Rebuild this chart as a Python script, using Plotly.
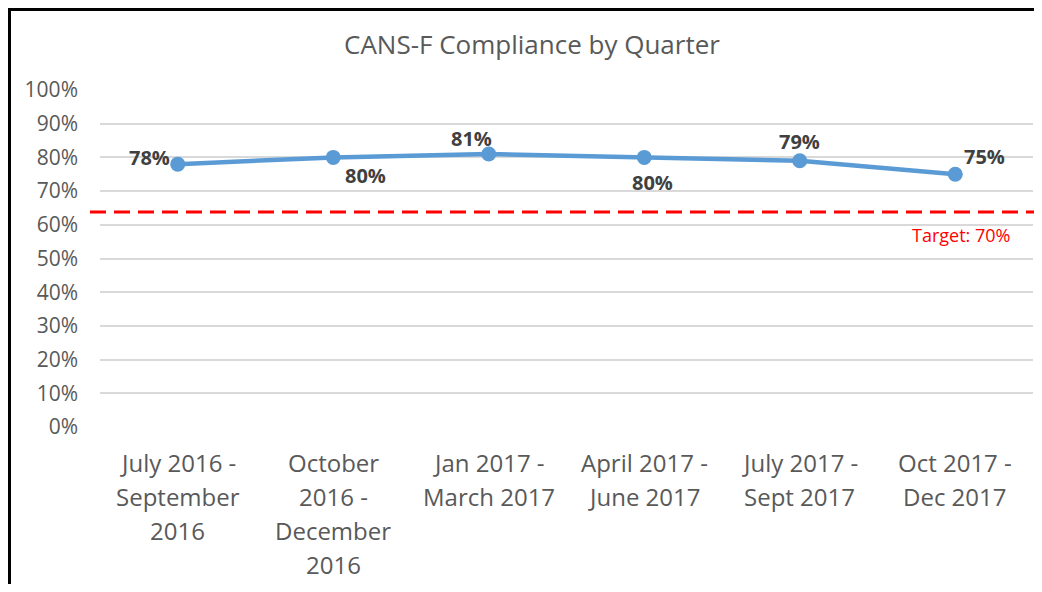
import plotly.graph_objects as go

# ---- data ----
quarters = [
    "July 2016 -<br>September<br>2016",
    "October<br>2016 -<br>December<br>2016",
    "Jan 2017 -<br>March 2017",
    "April 2017 -<br>June 2017",
    "July 2017 -<br>Sept 2017",
    "Oct 2017 -<br>Dec 2017",
]
compliance = [0.78, 0.80, 0.81, 0.80, 0.79, 0.75]
target_line_level = 0.638   # where the dashed target line is drawn in the picture
target_text = "Target: 70%"
y_ticks = [0, 0.1, 0.2, 0.3, 0.4, 0.5, 0.6, 0.7, 0.8, 0.9, 1.0]
y_tick_text = [f"{int(round(v*100))}%" for v in y_ticks]

# label offsets (px) for data labels, mimicking Excel placement
label_dx = [-28, 32, -17, 8, 0, 29]
label_dy = [7, -18, 16, -25, 19, 18]

GRAY = "#595959"
DARK = "#404040"
BLUE = "#5B9BD5"
FONT = "Open Sans"

# page has an 8px body margin, so the figure is sized to fit inside it
W, H = 1026, 576
PL, PR, PT, PB = 92, 1025, 82, 419     # plot area edges in figure px
PW, PH = PR - PL, PB - PT


def px_x(v):   # figure px -> paper x
    return (v - PL) / PW


def px_y(v):   # figure px (from top) -> paper y
    return (PB - v) / PH


fig = go.Figure()
fig.add_trace(go.Scatter(
    x=list(range(len(compliance))), y=compliance,
    mode="lines+markers",
    line=dict(color=BLUE, width=4.5),
    marker=dict(color=BLUE, size=15),
    cliponaxis=False,
    showlegend=False,
    hoverinfo="skip",
))

annotations = []
for i, v in enumerate(compliance):
    annotations.append(dict(
        x=i, y=v, xref="x", yref="y",
        text=f"<b>{int(round(v*100))}%</b>",
        showarrow=False, xshift=label_dx[i], yshift=label_dy[i],
        xanchor="center", yanchor="middle",
        font=dict(family=FONT, size=20, color=DARK),
    ))

# category labels, one annotation per line (Excel-like line spacing)
line_gap = 34
for i, q in enumerate(quarters):
    for j, line in enumerate(q.split("<br>")):
        annotations.append(dict(
            x=i, y=0, xref="x", yref="paper",
            text=line, showarrow=False,
            xanchor="center", yanchor="middle", yshift=-(35 + j * line_gap),
            font=dict(family=FONT, size=24, color=GRAY),
        ))

annotations.append(dict(
    x=px_x(953), y=target_line_level, xref="paper", yref="y",
    text=target_text, showarrow=False, yshift=-23,
    xanchor="center", yanchor="middle",
    font=dict(family=FONT, size=18, color="#FF0000"),
))

annotations.append(dict(
    x=px_x(524), y=1, xref="paper", yref="paper",
    xanchor="center", yanchor="middle", yshift=46,
    text="CANS-F Compliance by Quarter", showarrow=False,
    font=dict(family=FONT, size=26, color=GRAY),
))

shapes = [
    dict(type="line", xref="paper", yref="y",
         x0=px_x(82), x1=px_x(W),
         y0=target_line_level, y1=target_line_level,
         line=dict(color="#FF0000", width=3, dash="16px,8px")),
    # chart frame: only its left and top edges are visible in the picture
    dict(type="line", xref="paper", yref="paper",
         x0=px_x(1.5), x1=px_x(1.5), y0=px_y(H), y1=px_y(0),
         line=dict(color="black", width=3)),
    dict(type="line", xref="paper", yref="paper",
         x0=px_x(0), x1=px_x(W), y0=px_y(1.5), y1=px_y(1.5),
         line=dict(color="black", width=3)),
]

fig.update_layout(
    width=W, height=H,
    margin=dict(l=PL, r=W - PR, t=PT, b=H - PB),
    paper_bgcolor="white", plot_bgcolor="white",
    annotations=annotations, shapes=shapes,
    xaxis=dict(range=[-0.5, len(compliance) - 0.5], showticklabels=False,
               showgrid=False, zeroline=False, showline=False, fixedrange=True),
    yaxis=dict(range=[0, 1], tickvals=y_ticks, ticktext=y_tick_text,
               showgrid=True, gridcolor="#D9D9D9", gridwidth=1.5,
               zeroline=False, showline=False, ticks="",
               ticklabelstandoff=21,
               tickfont=dict(family=FONT, size=21, color=GRAY)),
    font=dict(family=FONT),
)

fig.write_html("out.html")
